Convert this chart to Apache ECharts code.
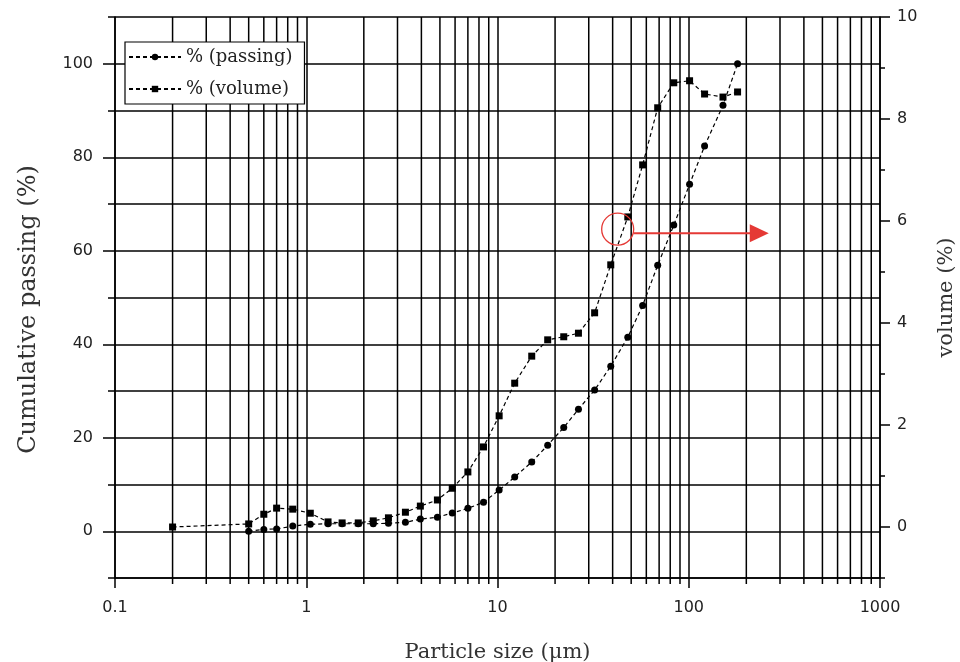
<!DOCTYPE html>
<html>
<head>
<meta charset="utf-8">
<script src="https://cdn.jsdelivr.net/npm/echarts@6/dist/echarts.min.js"></script>
<style>html,body{margin:0;padding:0;background:#fff}#c{width:960px;height:662px}</style>
</head>
<body>
<div id="c"></div>
<script>
// ---- data ----
const sizes   = [0.2, 0.5, 0.6, 0.7, 0.85, 1.05, 1.3, 1.54, 1.87, 2.24, 2.69, 3.3, 3.95, 4.85, 5.8, 7.0, 8.45, 10.2, 12.3, 15.1, 18.3, 22.2, 26.5, 32.2, 39.1, 48, 57.4, 68.8, 83.5, 101, 121, 151, 180];
const passing = [null, 0, 0.4, 0.5, 1.1, 1.5, 1.6, 1.6, 1.6, 1.6, 1.7, 1.9, 2.6, 3.0, 3.9, 4.9, 6.2, 8.8, 11.6, 14.8, 18.4, 22.2, 26.1, 30.2, 35.3, 41.5, 48.3, 56.9, 65.5, 74.2, 82.4, 91.1, 100];
const volume  = [0.0, 0.06, 0.25, 0.37, 0.35, 0.27, 0.1, 0.08, 0.08, 0.12, 0.18, 0.29, 0.41, 0.53, 0.76, 1.08, 1.57, 2.18, 2.82, 3.35, 3.67, 3.73, 3.80, 4.2, 5.14, 6.08, 7.1, 8.22, 8.71, 8.75, 8.49, 8.43, 8.53];
const xTickLabels = ['0.1', '1', '10', '100', '1000'];
const xMinorTicks = [0.2,0.3,0.4,0.5,0.6,0.7,0.8,0.9, 2,3,4,5,6,7,8,9, 20,30,40,50,60,70,80,90, 200,300,400,500,600,700,800,900];
const leftTickLabels = [0, 20, 40, 60, 80, 100];
const rightTickLabels = [0, 2, 4, 6, 8, 10];
const annoCircle = [42.5, 5.84];
const annoArrowEnd = [262, 5.76];

const chart = echarts.init(document.getElementById('c'));
const black = '#000';
const serif = 'DejaVu Serif';
const sans = 'DejaVu Sans';
const lw = 1.5;

const option = {
  animation: false,
  backgroundColor: '#fff',
  grid: { left: 115, right: 80, top: 17, bottom: 84, containLabel: false, outerBoundsMode: 'none' },
  legend: {
    data: ['% (passing)', '% (volume)'],
    orient: 'vertical',
    left: 125, top: 42,
    padding: [6, 12, 6, 3],
    itemWidth: 52, itemHeight: 8, itemGap: 14,
    backgroundColor: '#fff', borderColor: black, borderWidth: 1.2,
    textStyle: { fontFamily: serif, fontSize: 18, color: '#222' }
  },
  xAxis: [{
    type: 'log', logBase: 10, min: 0.1, max: 1000, position: 'bottom',
    axisLine: { show: true, onZero: false, lineStyle: { color: black, width: lw } },
    axisTick: { show: true, length: 10, lineStyle: { color: black, width: lw } },
    splitLine: { show: true, lineStyle: { color: black, width: lw } },
    axisLabel: { fontFamily: sans, fontSize: 16, color: '#222', margin: 22,
      formatter: v => xTickLabels[Math.round(Math.log10(v)) + 1] },
    name: 'Particle size (μm)', nameLocation: 'middle', nameGap: 64,
    nameTextStyle: { fontFamily: serif, fontSize: 21, color: '#333' }
  }],
  yAxis: [{
    type: 'value', position: 'left', min: -10, max: 110, interval: 10,
    axisLine: { show: true, onZero: false, lineStyle: { color: black, width: lw } },
    axisTick: { show: true, length: 7, lineStyle: { color: black, width: lw } },
    splitLine: { show: true, lineStyle: { color: black, width: lw } },
    axisLabel: { fontFamily: sans, fontSize: 16, color: '#222', margin: 22,
      formatter: v => leftTickLabels.includes(v) ? String(v) : '' },
    name: 'Cumulative passing (%)', nameLocation: 'middle', nameGap: 74, nameRotate: 90,
    nameTextStyle: { fontFamily: serif, fontSize: 24, color: '#333', padding: [0, 24, 0, 0] }
  }, {
    type: 'value', position: 'right', min: -1, max: 10, interval: 1,
    axisLine: { show: true, onZero: false, lineStyle: { color: black, width: lw } },
    axisTick: { show: true, length: 5, lineStyle: { color: black, width: lw } },
    splitLine: { show: false },
    axisLabel: { fontFamily: sans, fontSize: 16, color: '#222', margin: 17,
      formatter: v => rightTickLabels.includes(v) ? String(v) : '' },
    name: 'volume (%)', nameLocation: 'middle', nameGap: 56, nameRotate: 90,
    nameTextStyle: { fontFamily: serif, fontSize: 21, color: '#333' }
  }, {
    type: 'value', position: 'left', min: -10, max: 110, interval: 10,
    axisLine: { show: false }, splitLine: { show: false }, axisLabel: { show: false },
    axisTick: { show: true, length: 12, customValues: leftTickLabels, lineStyle: { color: black, width: lw } }
  }, {
    type: 'value', position: 'right', min: -1, max: 10, interval: 1,
    axisLine: { show: false }, splitLine: { show: false }, axisLabel: { show: false },
    axisTick: { show: true, length: 10, customValues: rightTickLabels, lineStyle: { color: black, width: lw } }
  }],
  series: [{
    type: 'custom', name: 'minorGrid', xAxisIndex: 0, yAxisIndex: 0, clip: false, z: 1, silent: true,
    data: xMinorTicks.map(v => [v, 0]), encode: { x: 0, y: 1 },
    renderItem: (params, api) => {
      const x = api.value(0);
      const t = api.coord([x, 110]);
      const b = api.coord([x, -10]);
      return { type: 'line', shape: { x1: t[0], y1: t[1], x2: b[0], y2: b[1] + 6 },
        style: { stroke: black, lineWidth: lw } };
    }
  }, {
    type: 'line', name: '% (passing)', xAxisIndex: 0, yAxisIndex: 0, z: 3,
    data: sizes.map((s, i) => [s, passing[i]]),
    symbol: 'circle', symbolSize: 7, showAllSymbol: true,
    itemStyle: { color: black },
    lineStyle: { color: black, width: 1.2, type: [4, 3] }
  }, {
    type: 'line', name: '% (volume)', xAxisIndex: 0, yAxisIndex: 1, z: 3,
    data: sizes.map((s, i) => [s, volume[i]]),
    symbol: 'rect', symbolSize: 7, showAllSymbol: true,
    itemStyle: { color: black },
    lineStyle: { color: black, width: 1.2, type: [4, 3] }
  }]
};
chart.setOption(option);

// red annotation: circle around the volume curve and arrow toward the right axis
const c = chart.convertToPixel({ xAxisIndex: 0, yAxisIndex: 1 }, annoCircle);
const e = chart.convertToPixel({ xAxisIndex: 0, yAxisIndex: 1 }, annoArrowEnd);
const r = 16, red = '#e53935', headL = 19, headH = 9;
chart.setOption({
  graphic: [
    { type: 'circle', shape: { cx: c[0], cy: c[1], r: r }, style: { fill: 'none', stroke: red, lineWidth: 1.3 }, z: 10 },
    { type: 'line', shape: { x1: c[0] + r, y1: e[1], x2: e[0] - headL + 2, y2: e[1] }, style: { stroke: red, lineWidth: 2 }, z: 10 },
    { type: 'polygon', shape: { points: [[e[0] - headL, e[1] - headH], [e[0], e[1]], [e[0] - headL, e[1] + headH]] }, style: { fill: red }, z: 10 }
  ]
});
</script>
</body>
</html>
